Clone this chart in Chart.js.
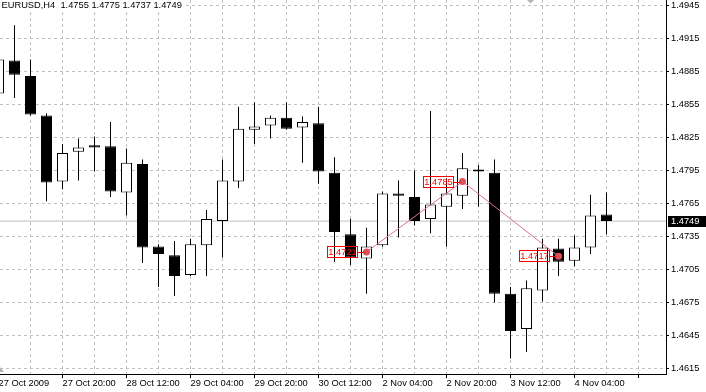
<!DOCTYPE html>
<html>
<head>
<meta charset="utf-8">
<script src="https://cdn.jsdelivr.net/npm/chart.js@4.4.0/dist/chart.umd.min.js"></script>
<style>
html,body{margin:0;padding:0;background:#fff;}
canvas{display:block;}
</style>
</head>
<body>
<canvas id="c" width="706" height="392"></canvas>
<script>
// ---- data (EURUSD H4, one bar per 4 hours, first bar 27 Oct 2009 04:00) ----
const symbolTitle = "EURUSD,H4  1.4755 1.4775 1.4737 1.4749";
const xTickLabels = ["27 Oct 2009","27 Oct 20:00","28 Oct 12:00","29 Oct 04:00","29 Oct 20:00",
                     "30 Oct 12:00","2 Nov 04:00","2 Nov 20:00","3 Nov 12:00","4 Nov 04:00"];
const yTickLabels = [1.4615,1.4645,1.4675,1.4705,1.4735,1.4765,1.4795,1.4825,1.4855,1.4885,1.4915,1.4945];

const opens  = [1.4865,1.4895,1.4881,1.4845,1.4785,1.4812,1.4818,1.4817,1.4775,1.4801,
                1.4726,1.4718,1.4700,1.4727,1.4749,1.4785,1.4832,1.4836,1.4843,1.4834,
                1.4838,1.4793,1.4737,1.4715,1.4727,1.4774,1.4771,1.4751,1.4762,1.4772,
                1.4796,1.4793,1.4683,1.4651,1.4686,1.4724,1.4713,1.4725,1.4755];
const highs  = [1.4905,1.4927,1.4896,1.4847,1.4819,1.4824,1.4826,1.4839,1.4815,1.4805,
                1.4728,1.4731,1.4733,1.4759,1.4805,1.4853,1.4857,1.4845,1.4857,1.4844,
                1.4853,1.4807,1.4751,1.4743,1.4776,1.4786,1.4795,1.4849,1.4788,1.4811,
                1.4800,1.4805,1.4689,1.4695,1.4733,1.4733,1.4736,1.4773,1.4775];
const lows   = [1.4858,1.4861,1.4845,1.4767,1.4778,1.4786,1.4794,1.4771,1.4754,1.4711,
                1.4689,1.4681,1.4699,1.4699,1.4716,1.4779,1.4819,1.4824,1.4832,1.4802,
                1.4783,1.4712,1.4709,1.4683,1.4726,1.4734,1.4745,1.4738,1.4726,1.4760,
                1.4762,1.4675,1.4624,1.4630,1.4676,1.4699,1.4708,1.4719,1.4737];
const closes = [1.4896,1.4882,1.4846,1.4784,1.4811,1.4816,1.4816,1.4776,1.4802,1.4725,
                1.4719,1.4699,1.4728,1.4751,1.4786,1.4833,1.4835,1.4843,1.4833,1.4839,
                1.4794,1.4739,1.4716,1.4726,1.4774,1.4772,1.4749,1.4764,1.4774,1.4797,
                1.4794,1.4683,1.4649,1.4688,1.4725,1.4712,1.4725,1.4754,1.4749];

const markerBars   = [23, 29, 35];
const markerValues = [1.4721, 1.4785, 1.4717];
const currentPrice = 1.4749;

// ---- view window ----
const xMin = 0.09375, xMax = 41.71875;
const yMin = 1.4610,  yMax = 1.4950;

const barIdx = opens.map((_, i) => i);
const gridIdx = []; for (let k = 0; k <= 40; k += 2) gridIdx.push(k);

const FONT = '"Liberation Sans", Arial, sans-serif';
const FSIZE = 9.3;
Chart.defaults.font.family = FONT;
Chart.defaults.font.size = FSIZE;
Chart.defaults.color = '#000';

const bodyData = barIdx.map(i => ({x: i, y: [opens[i], closes[i]]}));
const wickData = barIdx.map(i => ({x: i, y: [lows[i], highs[i]]}));
const markerData = markerBars.map((k, i) => ({x: k, y: markerValues[i]}));
const priceLineData = [{x: xMin, y: currentPrice}, {x: xMax, y: currentPrice}];

const overlay = {
  id: 'overlay',
  afterDatasetsDraw(chart) {
    const {ctx, scales: {x, y}} = chart;
    ctx.save();
    ctx.font = FSIZE + 'px ' + FONT;
    markerBars.forEach((k, i) => {
      const px = Math.round(x.getPixelForValue(k)) + 0.5;
      const py = Math.round(y.getPixelForValue(markerValues[i])) + 0.5;
      ctx.strokeStyle = '#ff0000';
      ctx.lineWidth = 1;
      ctx.beginPath(); ctx.moveTo(px - 10, py); ctx.lineTo(px - 3, py); ctx.stroke();
      ctx.strokeRect(px - 40, py - 6, 30, 11);
      ctx.fillStyle = '#ff0000';
      ctx.textAlign = 'center'; ctx.textBaseline = 'middle';
      ctx.fillText(markerValues[i].toFixed(4), px - 25, py);
    });
    ctx.restore();
  },
  afterDraw(chart) {
    const {ctx, scales: {x, y}, chartArea} = chart;
    ctx.save();
    // title
    ctx.fillStyle = '#fff';
    ctx.fillRect(0, 0, 184, 9);
    ctx.fillStyle = '#000';
    ctx.font = FSIZE + 'px ' + FONT;
    ctx.textAlign = 'left'; ctx.textBaseline = 'middle';
    ctx.fillText(symbolTitle, 1.5, 5.5);
    // current price tag
    const py = Math.round(y.getPixelForValue(currentPrice));
    ctx.fillStyle = '#000';
    ctx.fillRect(chartArea.right + 2, py - 5, 40, 11);
    ctx.fillStyle = '#fff';
    ctx.fillText(currentPrice.toFixed(4), chartArea.right + 5, py + 0.5);
    // small scroll markers
    ctx.fillStyle = '#b4b4b4';
    ctx.beginPath(); ctx.moveTo(527, 0); ctx.lineTo(534, 0); ctx.lineTo(530.5, 3.5); ctx.closePath(); ctx.fill();
    ctx.beginPath(); ctx.moveTo(0, 367); ctx.lineTo(4, 372); ctx.lineTo(0, 372); ctx.closePath(); ctx.fill();
    ctx.restore();
  }
};

new Chart(document.getElementById('c'), {
  type: 'bar',
  data: {
    datasets: [
      {
        type: 'line', data: markerData, order: 0,
        borderColor: '#e07098', borderWidth: 1,
        pointRadius: 3.5, pointBackgroundColor: '#dc505a', pointBorderWidth: 0,
        tension: 0, clip: false
      },
      {
        type: 'bar', data: bodyData, order: 1, grouped: false,
        barThickness: 11, minBarLength: 2, inflateAmount: 0,
        borderSkipped: false, borderWidth: 1, borderColor: '#000',
        backgroundColor: c => {
          const i = c.dataIndex;
          return closes[i] >= opens[i] ? '#fff' : '#000';
        }
      },
      {
        type: 'bar', data: wickData, order: 2, grouped: false,
        barThickness: 1, inflateAmount: 0, borderWidth: 0,
        backgroundColor: '#000'
      },
      {
        type: 'line', data: priceLineData, order: 3,
        borderColor: '#c0c0c0', borderWidth: 1, pointRadius: 0
      }
    ]
  },
  options: {
    responsive: false,
    animation: false,
    devicePixelRatio: 1,
    layout: {padding: 0, autoPadding: false},
    plugins: {legend: {display: false}, tooltip: {enabled: false}, title: {display: false}},
    scales: {
      x: {
        type: 'linear', position: 'bottom', min: xMin, max: xMax,
        offset: false,
        afterBuildTicks: s => { s.ticks = gridIdx.map(v => ({value: v})); },
        afterFit: s => { s.height = 18; s.paddingLeft = 0; s.paddingRight = 0; },
        ticks: {
          autoSkip: false, maxRotation: 0, minRotation: 0, align: 'start', padding: 0,
          color: '#000', font: {family: FONT, size: FSIZE},
          callback: v => (v % 4 === 0 && xTickLabels[v / 4] !== undefined) ? xTickLabels[v / 4] : ''
        },
        grid: {
          offset: false, color: '#c0c0c0', lineWidth: 1, tickLength: 4, tickWidth: 1,
          tickColor: c => (c.tick && c.tick.value % 4 === 0) ? '#000' : 'rgba(0,0,0,0)',
          tickBorderDash: []
        },
        border: {display: true, color: '#000', width: 1, dash: [3, 3]}
      },
      y: {
        type: 'linear', position: 'right', min: yMin, max: yMax,
        afterBuildTicks: s => { s.ticks = yTickLabels.map(v => ({value: v})); },
        afterFit: s => { s.width = 40; s.paddingTop = 0; s.paddingBottom = 0; },
        ticks: {
          padding: 2, color: '#000', font: {family: FONT, size: FSIZE},
          callback: v => Number(v).toFixed(4)
        },
        grid: {color: '#c0c0c0', lineWidth: 1, tickLength: 3, tickColor: '#000', tickBorderDash: []},
        border: {display: true, color: '#000', width: 1, dash: [3, 3]}
      }
    }
  },
  plugins: [overlay]
});
</script>
</body>
</html>
